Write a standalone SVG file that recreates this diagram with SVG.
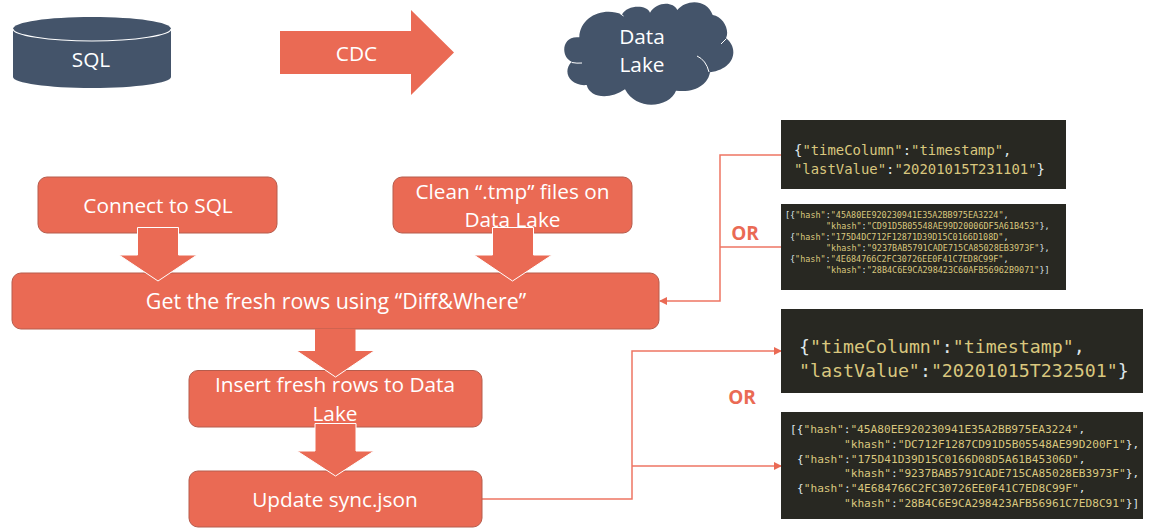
<svg xmlns="http://www.w3.org/2000/svg" width="1155" height="531" viewBox="0 0 1155 531">
<style>
.t{font-family:"Open Sans","Noto Sans","Liberation Sans",sans-serif;fill:#fff;font-size:20.800px;text-anchor:middle}
.box{fill:#ea6a54;stroke:#b65c4c;stroke-width:1}
.dn{fill:#ea6a54;stroke:#fff;stroke-width:1}
.navy{fill:#44546a}
.or{font-family:"Open Sans","Noto Sans","Liberation Sans",sans-serif;font-weight:700;font-size:19px;fill:#ea6a54;text-anchor:middle}
.scr{fill:#282822}
.c{fill:none;stroke:#ee7563;stroke-width:1.5}
.m{font-family:"DejaVu Sans Mono","Liberation Mono",monospace;fill:#d9c77e;white-space:pre}
.m tspan{fill:#dfe6ea}
</style>
<defs>
<marker id="ah" markerWidth="8" markerHeight="8" refX="7" refY="4" orient="auto" markerUnits="userSpaceOnUse"><path d="M0 0L8 4L0 8z" fill="#ea6a54"/></marker>
</defs>
<g id="connectors">
<path class="c" d="M781 155H720V301H660" marker-end="url(#ah)"/>
<path class="c" d="M781 247H720"/>
<path class="c" d="M482 499H632V351H781" marker-end="url(#ah)"/>
<path class="c" d="M632 466H781" marker-end="url(#ah)"/>
</g>
<g id="sql">
<path class="navy" d="M13 29C13 22 48 17 92 17S171 22 171 29V77C171 83 136 88 92 88S13 83 13 77Z"/>
<path d="M13 29C13 35 48 41 92 41S171 35 171 29" fill="none" stroke="#fff" stroke-width="1.2"/>
<text class="t" x="91" y="67">SQL</text>
</g>
<g id="cdc">
<path d="M280 31H411V10L454 52.500L411 95V74H280Z" fill="#ea6a54"/>
<text class="t" x="356.500" y="61">CDC</text>
</g>
<g id="datalake">
<path class="navy" d="M579.300 37.300C580 16.700 603.300 6.700 622 14.500C626.700 5 646.700 4 650 12.700C656.700 1.200 673.300 1.200 677.300 10C686.700 -1 706.700 -1 712.700 15C723.300 16.700 730 30 726 38.300C738 46.700 737 68.300 710 72.300C708.300 83.300 696.700 93.300 676 90.700C670 107 636.700 112 625 89.300C610 100 590 98.300 586.700 85C570 86.700 561.700 71.700 571.700 61.700C560 56.700 561.700 35 579.300 37.300Z"/>
<path d="M571.700 62.500Q577 63.500 582 63M697 56Q706 60 709 72M721 44L726 39M620 13.500L623.500 16" fill="none" stroke="#fff" stroke-width="1"/>
<text class="t" x="642" y="44">Data</text>
<text class="t" x="642" y="72">Lake</text>
</g>
<g id="connect">
<rect class="box" x="38" y="177" width="239" height="56" rx="9"/>
<text class="t" x="158" y="213">Connect to SQL</text>
</g>
<g id="clean">
<rect class="box" x="393" y="177" width="239" height="56" rx="9"/>
<text class="t" x="512.500" y="199">Clean “.tmp” files on</text>
<text class="t" x="512.500" y="227">Data Lake</text>
</g>
<g id="fresh">
<rect class="box" x="12" y="273" width="647" height="56" rx="9"/>
<text class="t" x="336" y="309" style="font-size:21.400px">Get the fresh rows using “Diff&amp;Where”</text>
</g>
<g id="insert">
<rect class="box" x="189" y="370.500" width="293" height="56.500" rx="9"/>
<text class="t" x="335" y="392">Insert fresh rows to Data</text>
<text class="t" x="335" y="421">Lake</text>
</g>
<g id="update">
<rect class="box" x="189" y="471" width="293" height="56" rx="9"/>
<text class="t" x="335" y="507">Update sync.json</text>
</g>
<g id="arrow1"><path class="dn" d="M137.500 227.500H178.500V255H197L158 281L119 255H137.500Z"/></g>
<g id="arrow2"><path class="dn" d="M492.500 227.500H533.500V255H552L512.500 281L474 255H492.500Z"/></g>
<g id="arrow3"><path d="M315 329H355.500V351H374L335.500 377L297 351H315Z" fill="#ea6a54"/><path d="M297 351L335.500 377L374 351" fill="none" stroke="#fff"/></g>
<g id="arrow4"><path class="dn" d="M315 423.500H356V451H374L335.500 476L297 451H315Z"/></g>
<g id="or1"><text class="or" x="745" y="240">OR</text></g>
<g id="or2"><text class="or" x="742" y="404">OR</text></g>
<g id="json1">
<rect class="scr" x="781" y="120" width="285" height="69"/>
<text class="m" font-size="13.900"><tspan x="794" y="155">{</tspan>"timeColumn"<tspan>:</tspan>"timestamp"<tspan>,</tspan><tspan x="794" y="174" style="fill:#d9c77e">"lastValue"</tspan><tspan>:</tspan>"20201015T231101"<tspan>}</tspan></text>
</g>
<g id="json2">
<rect class="scr" x="781" y="204" width="285" height="86"/>
<text class="m" font-size="8.450">
<tspan x="785" y="218">[{</tspan>"hash"<tspan>:</tspan>"45A80EE920230941E35A2BB975EA3224"<tspan>,</tspan>
<tspan x="826" y="229" style="fill:#d9c77e">"khash"</tspan><tspan>:</tspan>"CD91D5B05548AE99D20006DF5A61B453"<tspan>},</tspan>
<tspan x="790" y="240">{</tspan>"hash"<tspan>:</tspan>"175D4DC712F12871D39D15C0166D108D"<tspan>,</tspan>
<tspan x="826" y="251" style="fill:#d9c77e">"khash"</tspan><tspan>:</tspan>"9237BAB5791CADE715CA85028EB3973F"<tspan>},</tspan>
<tspan x="790" y="262">{</tspan>"hash"<tspan>:</tspan>"4E684766C2FC30726EE0F41C7ED8C99F"<tspan>,</tspan>
<tspan x="826" y="273" style="fill:#d9c77e">"khash"</tspan><tspan>:</tspan>"28B4C6E9CA298423C60AFB56962B9071"<tspan>}]</tspan>
</text>
</g>
<g id="json3">
<rect class="scr" x="781" y="309" width="362" height="84"/>
<text class="m" font-size="18.250"><tspan x="799" y="353">{</tspan>"timeColumn"<tspan>:</tspan>"timestamp"<tspan>,</tspan><tspan x="799" y="377" style="fill:#d9c77e">"lastValue"</tspan><tspan>:</tspan>"20201015T232501"<tspan>}</tspan></text>
</g>
<g id="json4">
<rect class="scr" x="781" y="412" width="362" height="107"/>
<text class="m" font-size="11.150">
<tspan x="790" y="433">[{</tspan>"hash"<tspan>:</tspan>"45A80EE920230941E35A2BB975EA3224"<tspan>,</tspan>
<tspan x="844" y="448" style="fill:#d9c77e">"khash"</tspan><tspan>:</tspan>"DC712F1287CD91D5B05548AE99D200F1"<tspan>},</tspan>
<tspan x="797" y="463">{</tspan>"hash"<tspan>:</tspan>"175D41D39D15C0166D08D5A61B45306D"<tspan>,</tspan>
<tspan x="844" y="477" style="fill:#d9c77e">"khash"</tspan><tspan>:</tspan>"9237BAB5791CADE715CA85028EB3973F"<tspan>},</tspan>
<tspan x="797" y="492">{</tspan>"hash"<tspan>:</tspan>"4E684766C2FC30726EE0F41C7ED8C99F"<tspan>,</tspan>
<tspan x="844" y="507" style="fill:#d9c77e">"khash"</tspan><tspan>:</tspan>"28B4C6E9CA298423AFB56961C7ED8C91"<tspan>}]</tspan>
</text>
</g>
</svg>
